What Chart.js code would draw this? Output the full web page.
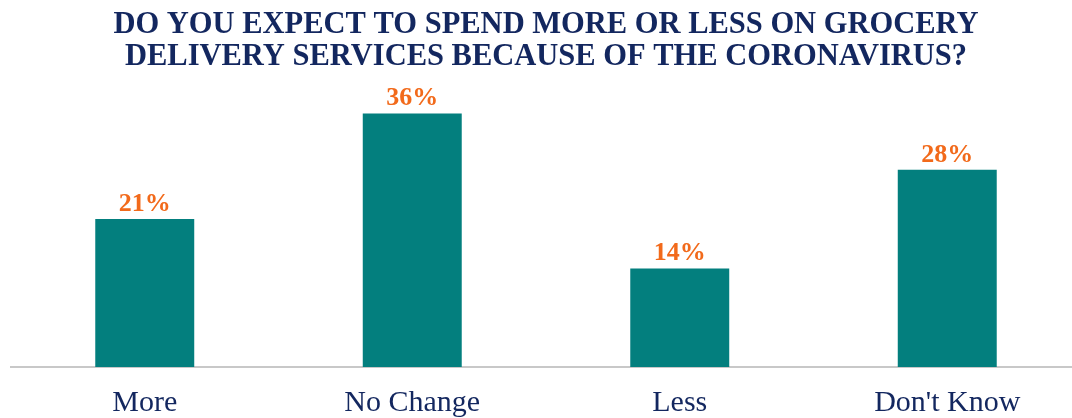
<!DOCTYPE html>
<html>
<head>
<meta charset="utf-8">
<script src="https://cdn.jsdelivr.net/npm/chart.js@4.4.1/dist/chart.umd.min.js"></script>
<style>
    html, body { margin: 0; padding: 0; background: #fff; overflow: hidden; }
    #wrap { position: relative; width: 1082px; height: 441px; }
</style>
</head>
<body>
<div id="wrap"><canvas id="mainChart"></canvas></div>
<script>
const categories = ['More', 'No Change', 'Less', "Don't Know"];
const shares = [21, 36, 14, 28];
const titleLines = [
    'DO YOU EXPECT TO SPEND MORE OR LESS ON GROCERY',
    'DELIVERY SERVICES BECAUSE OF THE CORONAVIRUS?'
];

const NAVY = '#13275f';
const TEAL = '#037f7e';
const ORANGE = '#f26a1b';

// value labels above each bar
const barLabels = {
    id: 'barLabels',
    afterDatasetsDraw(chart) {
        const ctx = chart.ctx;
        const meta = chart.getDatasetMeta(0);
        ctx.save();
        ctx.font = 'bold 26px "Liberation Serif"';
        ctx.fillStyle = ORANGE;
        ctx.textAlign = 'center';
        ctx.textBaseline = 'alphabetic';
        meta.data.forEach((bar, i) => {
            ctx.fillText(shares[i] + '%', bar.x, bar.y - 8);
        });
        ctx.restore();
    }
};

new Chart(document.getElementById('mainChart'), {
    type: 'bar',
    data: {
        labels: categories,
        datasets: [{
            data: shares,
            backgroundColor: TEAL,
            borderWidth: 0,
            categoryPercentage: 1,
            barPercentage: 0.37
        }]
    },
    options: {
        responsive: true,
        maintainAspectRatio: false,
        animation: false,
        layout: { padding: { left: 11, right: 1, top: 0, bottom: 2 } },
        plugins: {
            legend: { display: false },
            tooltip: { enabled: false },
            title: {
                display: true,
                text: titleLines,
                color: NAVY,
                font: { family: 'Liberation Serif', size: 30.5, weight: 'bold', lineHeight: 1.02 },
                padding: { top: 10, bottom: 13 }
            }
        },
        scales: {
            y: {
                display: false,
                min: 0,
                max: 40
            },
            x: {
                grid: { display: false, drawTicks: false },
                border: { display: true, color: '#c8c8c8', width: 2 },
                ticks: {
                    color: NAVY,
                    padding: 18,
                    font: { family: 'Liberation Serif', size: 30 }
                }
            }
        }
    },
    plugins: [barLabels]
});
</script>
</body>
</html>
